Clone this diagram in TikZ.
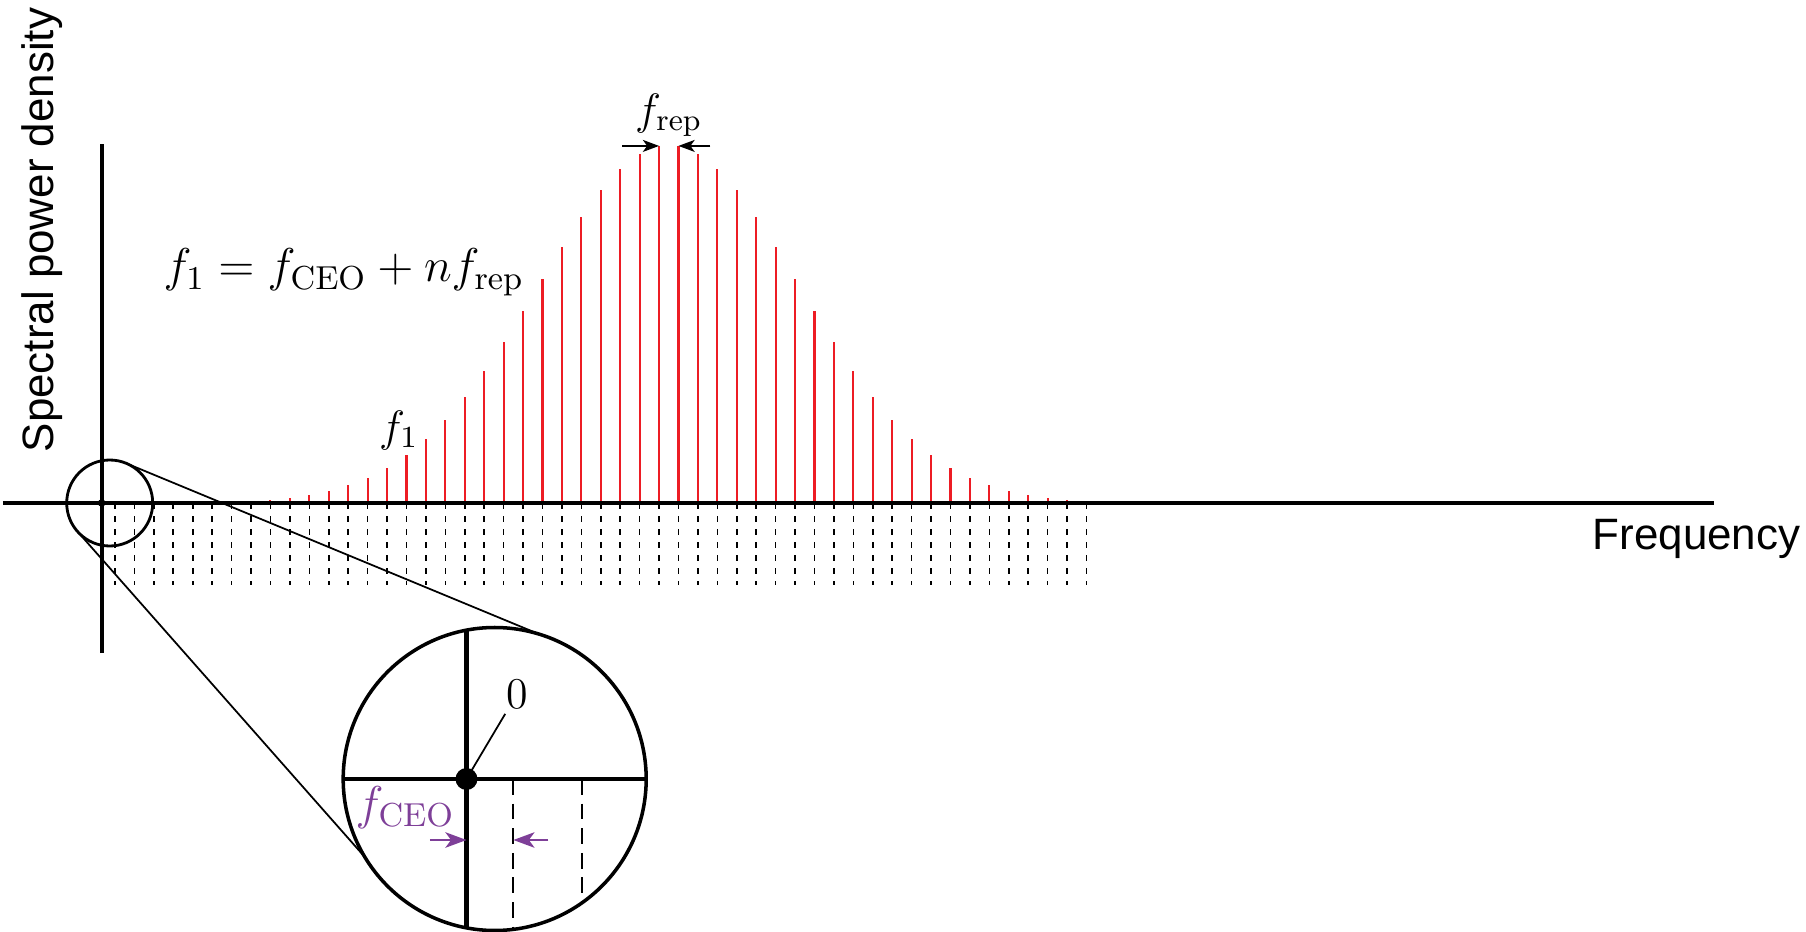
\RequirePackage{fix-cm}
\documentclass[tikz,border=0pt]{standalone}
\usepackage{fontspec}
\newfontfamily\axisfont{Liberation Sans}
\usepackage{amsmath}
\usepackage{tikz}
\usetikzlibrary{arrows.meta}
\definecolor{ccomb}{HTML}{ED1C24}
\definecolor{cceo}{HTML}{7E3F98}

\begin{document}
\begin{tikzpicture}[>={Stealth[length=4.6pt,width=3.4pt,inset=1.2pt]},
  axisline/.style={line width=1.2pt},
  tooth/.style={ccomb,line width=0.6pt},
  combdash/.style={line width=0.45pt,dash pattern=on 1.7pt off 2pt},
  zoomdash/.style={line width=0.6pt,dash pattern=on 4.5pt off 2.5pt},
  mlabel/.style={inner sep=0pt,font=\fontsize{12.5}{15}\selectfont},
  biglabel/.style={inner sep=0pt,font=\fontsize{13.5}{16}\selectfont}]
  \useasboundingbox (-1.017,-4.29) rectangle (17.043,5.03);
  \foreach \n in {0,...,50}
    \draw[combdash] ({0.133+0.1943*\n},0) -- ++(0,-0.82);
  \foreach \n in {7,...,50}
    \draw[tooth] ({0.133+0.1943*\n},0) -- ++(0,{3.58*exp(-(\n-28.5)*(\n-28.5)/90.4)}) coordinate (p\n);
  \draw[axisline] (-0.987,0) -- (16.12,0);
  \draw[axisline] (0,-1.5) -- (0,3.59);
  \node[font=\fontsize{12.5}{15}\selectfont\axisfont,rotate=90,anchor=base,inner sep=0pt] (ylabel) at (-0.487,2.73) {Spectral power density};
  \node[font=\fontsize{12.5}{15}\selectfont\axisfont,anchor=base west,inner sep=0pt] (xlabel) at (14.903,-0.46) {Frequency};
  \node[mlabel,anchor=base] (frep) at (5.67,3.79) {$f_{\mathrm{rep}}$};
  \draw[->,line width=0.5pt] ([xshift=-3.7mm]p28) -- (p28);
  \draw[->,line width=0.5pt] ([xshift=3.2mm]p29) -- (p29);
  \node[biglabel,anchor=base] (combeq) at (2.42,2.21) {$f_1 = f_{\mathrm{CEO}} + n f_{\mathrm{rep}}$};
  \node[mlabel,anchor=base] (f1) at (2.97,0.62) {$f_1$};
  % magnified view of the origin
  \node[circle,draw,line width=0.8pt,minimum size=0.86cm,inner sep=0pt,outer sep=0pt] (lens) at (0.08,0) {};
  \fill (0,0) circle (0.038);
  \begin{scope}
    \clip (3.93,-2.76) circle (1.515);
    \draw[line width=1.4pt] (2.3,-2.76) -- (5.5,-2.76);
    \draw[line width=1.4pt] (3.648,-1.2) -- (3.648,-4.3);
    \draw[zoomdash] (4.117,-2.76) -- ++(0,-1.6);
    \draw[zoomdash] (4.801,-2.76) -- ++(0,-1.6);
  \end{scope}
  \node[circle,draw,line width=1pt,minimum size=3.03cm,inner sep=0pt,outer sep=0pt] (zoomed) at (3.93,-2.76) {};
  \draw[line width=0.5pt] (lens.68) -- (zoomed.73);
  \draw[line width=0.5pt] (lens.222) -- (zoomed.211);
  \node[circle,fill,inner sep=0pt,minimum size=0.22cm] (origin) at (3.648,-2.76) {};
  \node[mlabel,inner sep=0.05cm] (zero) at (4.153,-1.91) {$0$};
  \draw[line width=0.5pt] (origin.center) -- (zero);
  \node[biglabel,cceo,anchor=base] (fceo) at (3.035,-3.16) {$f_{\mathrm{CEO}}$};
  \coordinate (ceo0) at (3.648,-3.37);
  \coordinate (ceo1) at (4.117,-3.37);
  \draw[cceo,-{Stealth[length=6pt,width=4.4pt,inset=1.6pt]},line width=0.7pt] ([xshift=-3.65mm]ceo0) -- (ceo0);
  \draw[cceo,-{Stealth[length=6pt,width=4.4pt,inset=1.6pt]},line width=0.7pt] ([xshift=3.5mm]ceo1) -- (ceo1);
\end{tikzpicture}
\end{document}
